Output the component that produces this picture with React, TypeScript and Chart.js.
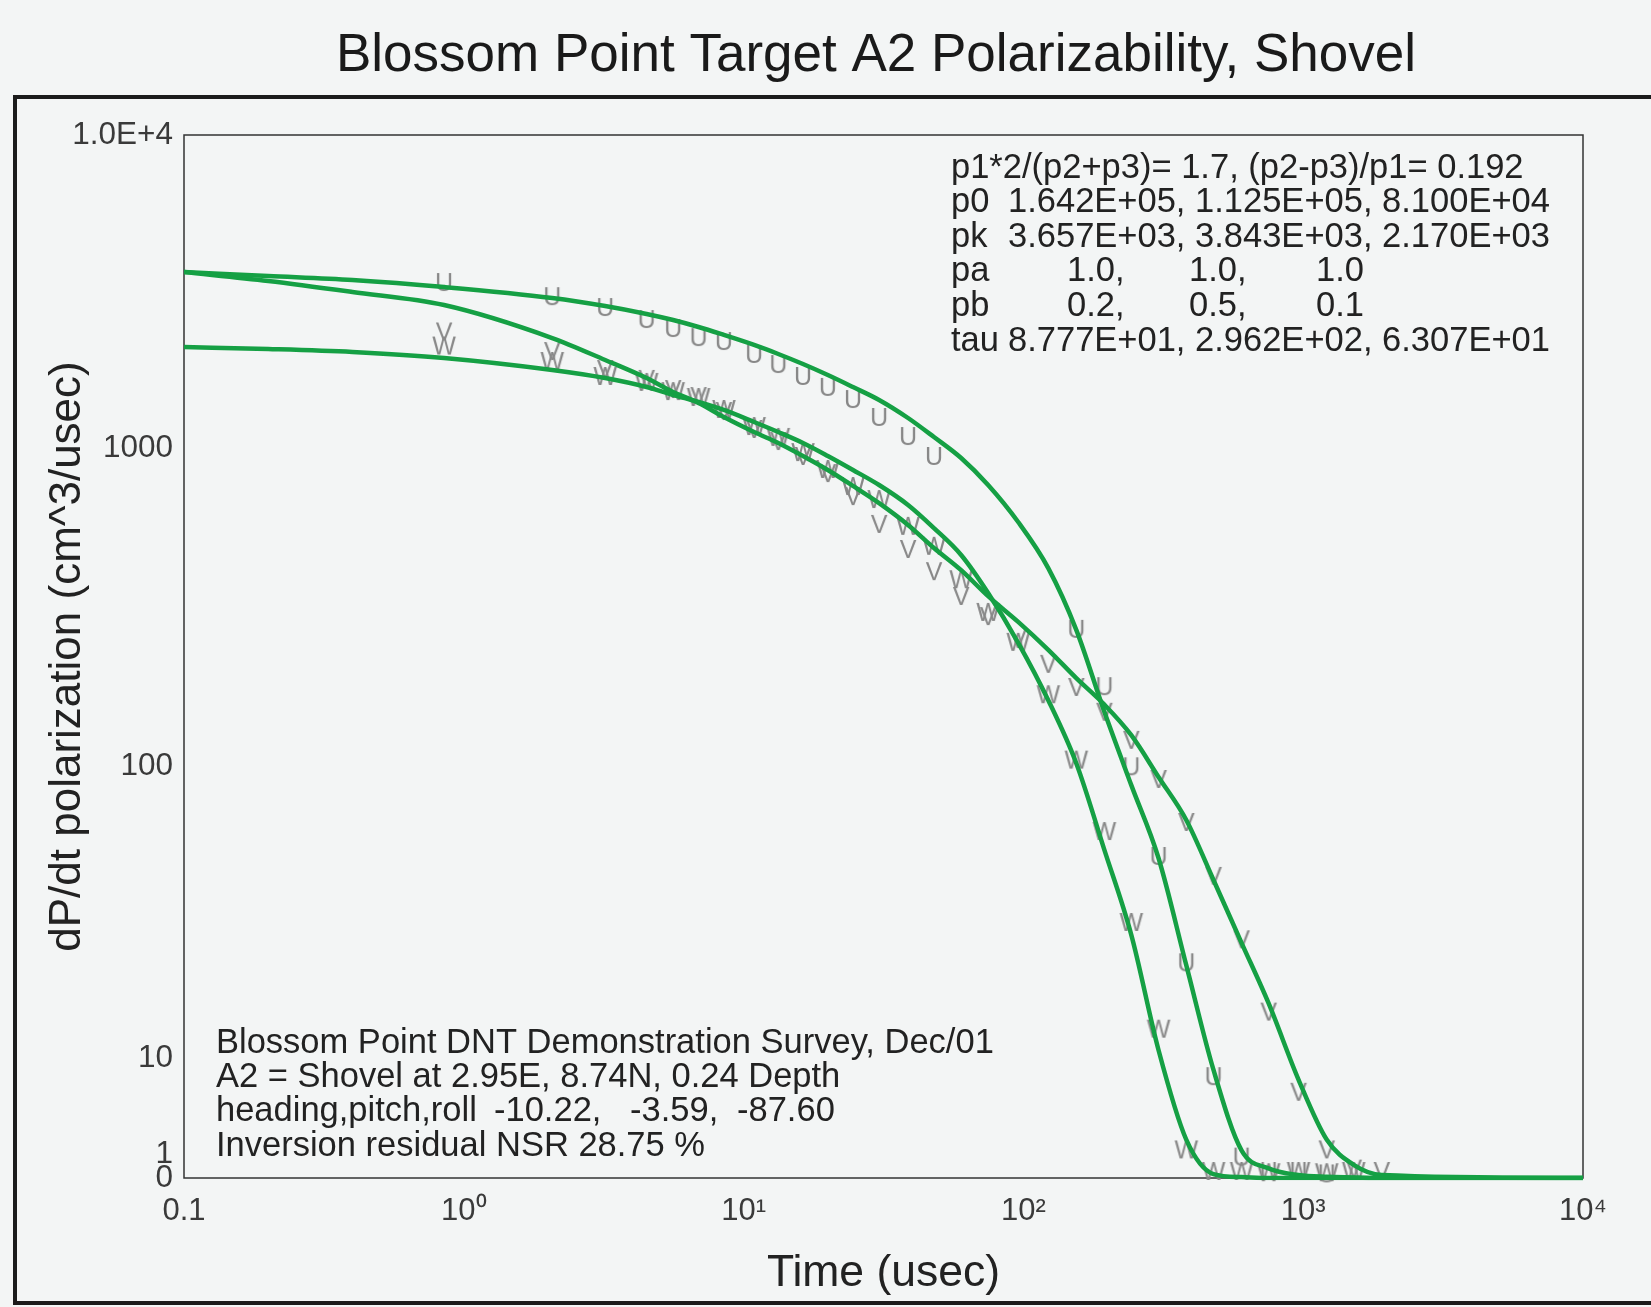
import React, { useEffect, useRef } from 'react';
import { Chart, Scale, registerables } from 'chart.js';

Chart.register(...registerables);

const FONT = '"Liberation Sans", Arial, Helvetica, sans-serif';
const MARK_FONT = '"Liberation Sans Narrow", "Liberation Sans", Arial, sans-serif';

const TITLE = 'Blossom Point Target A2 Polarizability, Shovel';
const X_TITLE = 'Time (usec)';
const Y_TITLE = 'dP/dt polarization (cm^3/usec)';

const X_TICKS = [0.1, 1, 10, 100, 1000, 10000];
const X_TICK_LABELS = ['0.1', '10\u2070', '10\u00b9', '10\u00b2', '10\u00b3', '10\u2074'];
const Y_TICKS = [0, 1, 10, 100, 1000, 10000];
const Y_TICK_LABELS: (string | string[])[] = ['0', ['1', ''], '10', '100', '1000', '1.0E+4'];

// fitted model curves (time in usec)
const FIT_TIMES = [0.1, 0.2, 0.4, 0.85, 2.07, 3.2, 4.5, 5.6, 6.9, 8.5, 10.9, 13.3, 16.3, 20, 24.6, 30.5, 38.7, 47.9, 59.9, 74.8, 95.8, 122.7, 154.5, 194.7, 243, 304, 382, 478, 602, 752, 962, 1213, 1515, 1908, 10000];
const FIT_U = [3650, 3544, 3441, 3268, 3015, 2842, 2681, 2564, 2436, 2297, 2134, 1997, 1855, 1711, 1566, 1424, 1247, 1084, 930, 765, 585, 419, 268, 148, 86, 48.4, 20.8, 9.0, 2.3, 0.8, 0.25, 0.1, 0.05, 0, 0];
const FIT_V = [3650, 3417, 3151, 2863, 2246, 1911, 1673, 1510, 1393, 1256, 1125, 1038, 944, 853, 760, 671, 573, 485, 413, 342, 284, 232, 189, 156, 125, 91.7, 65.3, 40.7, 24.8, 15.4, 8.2, 3.2, 1.1, 0.25, 0];
const FIT_W = [2102, 2071, 2026, 1939, 1775, 1673, 1566, 1477, 1403, 1323, 1211, 1125, 1038, 944, 853, 765, 662, 560, 461, 350, 244, 161, 102, 51.6, 26.4, 10.65, 3.2, 0.33, 0.08, 0, 0, 0, 0, 0, 0];

// measured data (gate times)
const GATE_TIMES = [0.85, 2.07, 3.2, 4.5, 5.6, 6.9, 8.5, 10.9, 13.3, 16.3, 20, 24.6, 30.5, 38.7, 47.9, 59.9, 74.8, 95.8, 122.7, 154.5, 194.7, 243, 304, 382, 478, 602, 752, 962, 1213, 1515, 1908];
const OBS_U = [3365, 3034, 2800, 2564, 2399, 2245, 2181, 1983, 1841, 1686, 1556, 1423, 1247, 1084, 937, null, null, null, null, 268, 177, 99, 48.8, 21.1, 8.4, 1.7, 0.5, 0.5, 0.3, null, null];
const OBS_V = [2340, 2026, 1775, 1650, 1532, 1455, 1303, 1142, 1045, 937, 828, 701, 573, 478, 407, 340, 294, 249, 208, 176, 147, 120, 89.6, 63.8, 41.7, 25.3, 14.3, 7.1, 2.3, 0.7, 0.5];
const OBS_W = [2110, 1883, 1686, 1614, 1509, 1445, 1323, 1167, 1077, 964, 853, 754, 686, 565, 489, 384, 303, 244, 167, 104, 59.4, 29, 12.5, 2.3, 0.5, 0.5, 0.4, 0.5, 0.4, 0.5, null];

const PARAM_LINES = [
  ['p1*2/(p2+p3)= 1.7, (p2-p3)/p1= 0.192'],
  ['p0', '1.642E+05, 1.125E+05, 8.100E+04'],
  ['pk', '3.657E+03, 3.843E+03, 2.170E+03'],
  ['pa', '1.0,', '1.0,', '1.0'],
  ['pb', '0.2,', '0.5,', '0.1'],
  ['tau', '8.777E+01, 2.962E+02, 6.307E+01'],
];
const INFO_LINES = [
  ['Blossom Point DNT Demonstration Survey, Dec/01'],
  ['A2 = Shovel at 2.95E, 8.74N, 0.24 Depth'],
  ['heading,pitch,roll', '-10.22,', '-3.59,', '-87.60'],
  ['Inversion residual NSR 28.75 %'],
];

// axis shape of the source plot: linear from 0 to 10, logarithmic above (value, fraction of height)
const Y_KNOTS: [number, number][] = [[10, 0.1151], [100, 0.395], [1000, 0.6999], [10000, 1]];

class LogLinScale extends Scale {
  static id = 'loglin';
  static defaults = {};
  determineDataLimits() {
    this.min = 0;
    this.max = 10000;
  }
  buildTicks() {
    return Y_TICKS.map((v) => ({ value: v }));
  }
  getLabelForValue(v: number) {
    return String(v);
  }
  toFraction(v: number) {
    if (v == null || isNaN(v)) return NaN;
    const k = Y_KNOTS;
    if (v <= 0) return 0;
    if (v < k[0][0]) return (k[0][1] * v) / k[0][0];
    let i = 0;
    while (i < k.length - 2 && v > k[i + 1][0]) i++;
    const [v0, f0] = k[i];
    const [v1, f1] = k[i + 1];
    return f0 + ((Math.log10(v) - Math.log10(v0)) / (Math.log10(v1) - Math.log10(v0))) * (f1 - f0);
  }
  getPixelForValue(v: number) {
    return this.getPixelForDecimal(this.toFraction(v));
  }
  getValueForPixel(p: number) {
    const f = this.getDecimalForPixel(p);
    const k = Y_KNOTS;
    if (f <= k[0][1]) return (f / k[0][1]) * k[0][0];
    let i = 0;
    while (i < k.length - 2 && f > k[i + 1][1]) i++;
    const [v0, f0] = k[i];
    const [v1, f1] = k[i + 1];
    const lg = Math.log10(v0) + ((f - f0) / (f1 - f0)) * (Math.log10(v1) - Math.log10(v0));
    return Math.pow(10, lg);
  }
}
Chart.register(LogLinScale as any);

function letterImage(ch: string) {
  const c = document.createElement('canvas');
  c.width = 30;
  c.height = 30;
  const g = c.getContext('2d')!;
  g.font = `25px ${MARK_FONT}`;
  g.fillStyle = '#888888';
  g.textAlign = 'center';
  g.textBaseline = 'middle';
  g.fillText(ch, 15, 16);
  return c;
}

const decorPlugin = {
  id: 'decor',
  beforeDraw(chart: any) {
    const { ctx, width, height } = chart;
    ctx.save();
    ctx.fillStyle = '#f3f5f5';
    ctx.fillRect(0, 0, width, height);
    ctx.strokeStyle = '#1b1b1b';
    ctx.lineWidth = 4;
    ctx.strokeRect(15, 97, width + 40, 1206);
    ctx.restore();
  },
  beforeDatasetsDraw(chart: any) {
    const { ctx, chartArea: a } = chart;
    ctx.save();
    ctx.strokeStyle = '#333333';
    ctx.lineWidth = 1.5;
    ctx.strokeRect(a.left, a.top, a.right - a.left, a.bottom - a.top);

    ctx.fillStyle = '#222222';
    ctx.font = `34.5px ${FONT}`;
    ctx.textBaseline = 'middle';
    ctx.textAlign = 'left';
    const pCols2 = [951, 1008];
    const pCols4 = [951, 1067, 1189, 1316];
    PARAM_LINES.forEach((parts, i) => {
      const y = 168 + i * 34.6;
      const cols = parts.length === 4 ? pCols4 : pCols2;
      parts.forEach((s, j) => ctx.fillText(s, cols[j], y));
    });
    const iCols4 = [216, 494, 630, 737];
    INFO_LINES.forEach((parts, i) => {
      const y = 1043 + i * 34.4;
      parts.forEach((s, j) => ctx.fillText(s, iCols4[j], y));
    });
    ctx.restore();
  },
};

export default function App() {
  const ref = useRef<HTMLCanvasElement | null>(null);

  useEffect(() => {
    if (!ref.current) return;
    const green = '#15a044';
    const fit = (vals: number[], label: string) => ({
      label,
      data: FIT_TIMES.map((t, i) => ({ x: t, y: vals[i] })),
      borderColor: green,
      borderWidth: 4.5,
      pointRadius: 0,
      cubicInterpolationMode: 'monotone' as const,
      borderJoinStyle: 'round' as const,
      borderCapStyle: 'round' as const,
      fill: false,
    });
    const obs = (vals: (number | null)[], letter: string) => ({
      label: letter,
      data: GATE_TIMES.map((t, i) => ({ x: t, y: vals[i] })).filter((p) => p.y !== null),
      showLine: false,
      pointStyle: letterImage(letter),
      pointRadius: 6,
      clip: false as any,
    });

    const chart = new Chart(ref.current, {
      type: 'line',
      data: {
        datasets: [
          fit(FIT_U, 'fit U'),
          fit(FIT_V, 'fit V'),
          fit(FIT_W, 'fit W'),
          obs(OBS_U, 'U'),
          obs(OBS_V, 'V'),
          obs(OBS_W, 'W'),
        ] as any,
      },
      options: {
        responsive: false,
        animation: false,
        events: [],
        layout: { padding: 0 },
        plugins: {
          legend: { display: false },
          tooltip: { enabled: false },
          title: {
            display: true,
            text: TITLE,
            color: '#1a1a1a',
            font: { family: FONT, size: 53, weight: 'normal' },
            padding: { top: 25, bottom: 46.4 },
          },
        },
        scales: {
          x: {
            type: 'logarithmic',
            position: 'bottom',
            min: 0.1,
            max: 10000,
            bounds: 'data',
            afterBuildTicks: (s: any) => {
              s.ticks = X_TICKS.map((v) => ({ value: v }));
            },
            afterFit: (s: any) => {
              s.height = 129;
            },
            ticks: {
              autoSkip: false,
              maxRotation: 0,
              minRotation: 0,
              padding: 15,
              color: '#3a3a3a',
              font: { family: FONT, size: 31 },
              callback: (_v: any, i: number) => X_TICK_LABELS[i],
            },
            grid: { display: false, drawTicks: false, tickLength: 0 },
            border: { display: false },
            title: {
              display: true,
              text: X_TITLE,
              color: '#222222',
              font: { family: FONT, size: 44.5 },
              padding: { top: 0, bottom: 7 },
            },
          },
          y: {
            type: 'loglin' as any,
            position: 'left',
            afterFit: (s: any) => {
              s.width = 184;
            },
            ticks: {
              autoSkip: false,
              padding: 11,
              color: '#3a3a3a',
              font: { family: FONT, size: 31.5, lineHeight: 0.72 },
              callback: (_v: any, i: number) => Y_TICK_LABELS[i],
            },
            grid: { display: false, drawTicks: false, tickLength: 0 },
            border: { display: false },
            title: {
              display: true,
              text: Y_TITLE,
              color: '#222222',
              font: { family: FONT, size: 44 },
              padding: { top: 41, bottom: 0 },
            },
          },
          yRight: {
            type: 'linear',
            axis: 'y',
            position: 'right',
            display: true,
            afterFit: (s: any) => {
              s.width = 169;
            },
            ticks: { display: false },
            grid: { display: false, drawTicks: false },
            border: { display: false },
          },
        } as any,
      },
      plugins: [decorPlugin],
    });
    return () => chart.destroy();
  }, []);

  return (
    <div style={{ position: 'absolute', left: 0, top: 0, width: 1651, height: 1307, overflow: 'hidden', background: '#f3f5f5' }}>
      <canvas ref={ref} width={1752} height={1307} style={{ display: 'block' }} />
    </div>
  );
}
